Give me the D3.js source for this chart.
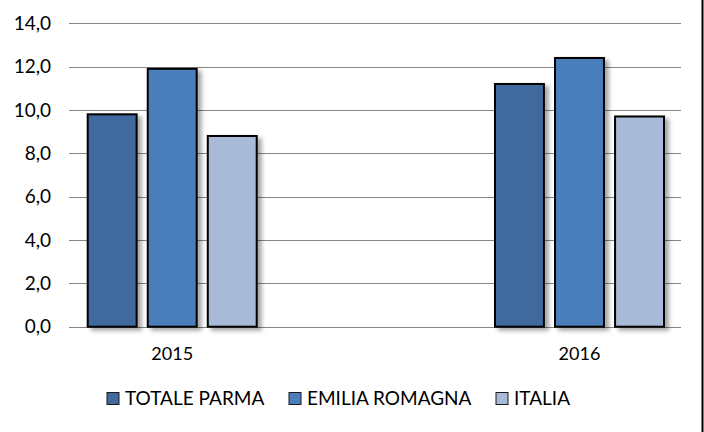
<!DOCTYPE html>
<html>
<head>
<meta charset="utf-8">
<script src="https://cdn.jsdelivr.net/npm/d3@7"></script>
<style>
  body { margin: 0; background: #fff; }
  svg { display: block; font-family: Lato, "Open Sans", sans-serif; }
</style>
</head>
<body>
<svg id="chart"></svg>
<script>
const width = 704;
const height = 432;

const years = ['2015', '2016'];
const seriesNames = ['TOTALE PARMA', 'EMILIA ROMAGNA', 'ITALIA'];
const totaleParma = [9.8, 11.2];
const emiliaRomagna = [11.9, 12.4];
const italia = [8.8, 9.7];
const yTicks = [0, 2, 4, 6, 8, 10, 12, 14];

const colors = ['#41699d', '#4a7ebb', '#a9b9d8'];
const seriesValues = [totaleParma, emiliaRomagna, italia];

const svg = d3.select('#chart')
    .attr('width', width)
    .attr('height', height);

svg.append('rect')
    .attr('width', width).attr('height', height)
    .attr('fill', '#fff');

const defs = svg.append('defs');
const shadow = defs.append('filter')
    .attr('id', 'shadow')
    .attr('x', '-20%').attr('y', '-20%')
    .attr('width', '150%').attr('height', '150%');
shadow.append('feDropShadow')
    .attr('dx', 4).attr('dy', 3)
    .attr('stdDeviation', 2)
    .attr('flood-color', '#000')
    .attr('flood-opacity', 0.35);

const yScale = d3.scaleLinear()
    .domain([0, 14])
    .range([326.7, 23.3]);

const xScale = d3.scaleBand()
    .domain(years)
    .range([87.7, 664])
    .paddingInner(0.585)
    .paddingOuter(0);

const xInner = d3.scaleBand()
    .domain(seriesNames)
    .range([0, xScale.bandwidth()])
    .paddingInner(0.185);

// gridlines
svg.append('g')
    .selectAll('line')
    .data(yTicks)
    .enter()
    .append('line')
    .attr('x1', 69)
    .attr('x2', 681)
    .attr('y1', d => Math.round(yScale(d)) + 0.5)
    .attr('y2', d => Math.round(yScale(d)) + 0.5)
    .attr('stroke', '#868686')
    .attr('stroke-width', 1);

// y labels
svg.append('g')
    .selectAll('text')
    .data(yTicks)
    .enter()
    .append('text')
    .attr('x', 51)
    .attr('y', d => yScale(d))
    .attr('dy', '0.35em')
    .attr('text-anchor', 'end')
    .attr('font-size', 19)
    .attr('fill', '#000')
    .text(d => d3.format('.1f')(d).replace('.', ','));

// bars
const bars = [];
years.forEach((yr, i) => {
    seriesNames.forEach((s, j) => {
        bars.push({year: yr, series: s, value: seriesValues[j][i], color: colors[j]});
    });
});

svg.append('g')
    .selectAll('rect')
    .data(bars)
    .enter()
    .append('rect')
    .attr('x', d => xScale(d.year) + xInner(d.series))
    .attr('y', d => yScale(d.value))
    .attr('width', xInner.bandwidth())
    .attr('height', d => yScale(0) - yScale(d.value))
    .attr('fill', d => d.color)
    .attr('stroke', '#000')
    .attr('stroke-width', 2)
    .attr('filter', 'url(#shadow)');

// x labels
svg.append('g')
    .selectAll('text')
    .data(years)
    .enter()
    .append('text')
    .attr('x', d => xScale(d) + xScale.bandwidth() / 2)
    .attr('y', 360)
    .attr('text-anchor', 'middle')
    .attr('font-size', 18)
    .attr('fill', '#000')
    .text(d => d);

// legend
const legendX = [107, 289, 496];
const legend = svg.append('g')
    .selectAll('g')
    .data(seriesNames)
    .enter()
    .append('g')
    .attr('transform', (d, i) => `translate(${legendX[i]}, 392.5)`);

legend.append('rect')
    .attr('width', 12)
    .attr('height', 12)
    .attr('fill', (d, i) => colors[i])
    .attr('stroke', '#1a1a1a')
    .attr('stroke-width', 1);

legend.append('text')
    .attr('x', 18)
    .attr('y', 6)
    .attr('dy', '0.36em')
    .attr('font-size', 19)
    .attr('fill', '#000')
    .text(d => d);

// right border
svg.append('line')
    .attr('x1', 702.5).attr('x2', 702.5)
    .attr('y1', 0).attr('y2', height)
    .attr('stroke', '#000')
    .attr('stroke-width', 2);
</script>
</body>
</html>
